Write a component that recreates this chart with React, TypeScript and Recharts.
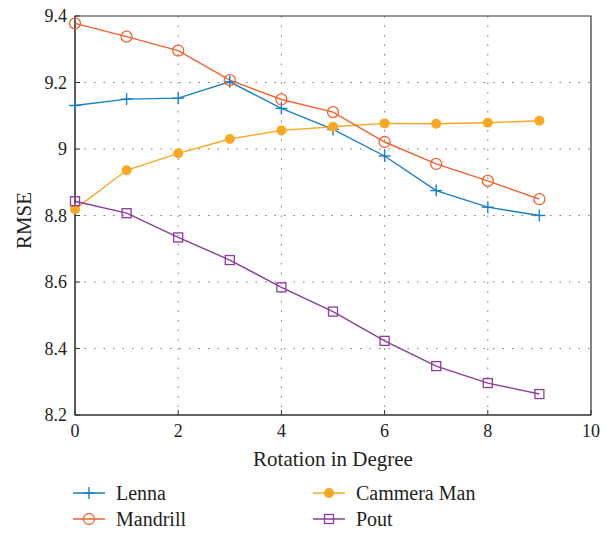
import {
  LineChart,
  Line,
  XAxis,
  YAxis,
  CartesianGrid,
  Legend,
  ReferenceArea,
} from "recharts";

const degrees = [0, 1, 2, 3, 4, 5, 6, 7, 8, 9];
const lenna = [9.131, 9.15, 9.153, 9.202, 9.122, 9.059, 8.979, 8.875, 8.825, 8.8];
const mandrill = [9.378, 9.338, 9.296, 9.207, 9.149, 9.111, 9.021, 8.955, 8.904, 8.849];
const cammeraMan = [8.819, 8.936, 8.987, 9.03, 9.056, 9.067, 9.077, 9.076, 9.079, 9.085];
const pout = [8.843, 8.807, 8.734, 8.666, 8.584, 8.511, 8.423, 8.347, 8.296, 8.263];

const xTicks = [0, 2, 4, 6, 8, 10];
const yTicks = [8.2, 8.4, 8.6, 8.8, 9, 9.2, 9.4];

const data = degrees.map((d, i) => ({
  deg: d,
  lenna: lenna[i],
  mandrill: mandrill[i],
  cammera: cammeraMan[i],
  pout: pout[i],
}));

const FONT = '"Liberation Serif", "DejaVu Serif", serif';
const TEXT = "#231f20";

const series = [
  { key: "lenna", name: "Lenna", color: "#1a7fc4", marker: "plus" },
  { key: "cammera", name: "Cammera Man", color: "#f9a822", marker: "dot" },
  { key: "mandrill", name: "Mandrill", color: "#f2622e", marker: "circle" },
  { key: "pout", name: "Pout", color: "#8d3b9e", marker: "square" },
];

function Marker({ type, cx, cy, color }: { type: string; cx: number; cy: number; color: string }) {
  if (type === "plus")
    return (
      <g stroke={color} strokeWidth={1.4}>
        <line x1={cx - 6} y1={cy} x2={cx + 6} y2={cy} />
        <line x1={cx} y1={cy - 6} x2={cx} y2={cy + 6} />
      </g>
    );
  if (type === "circle")
    return <circle cx={cx} cy={cy} r={5.5} fill="#fff" fillOpacity={0} stroke={color} strokeWidth={1.3} />;
  if (type === "dot") return <circle cx={cx} cy={cy} r={5} fill={color} stroke="none" />;
  return (
    <rect x={cx - 4.5} y={cy - 4.5} width={9} height={9} fill="none" stroke={color} strokeWidth={1.3} />
  );
}

function makeDot(type: string, color: string) {
  return (p: any) => <Marker key={p.index} type={type} cx={p.cx} cy={p.cy} color={color} />;
}

function LegendBox() {
  return (
    <div
      style={{
        display: "grid",
        gridTemplateColumns: "240px 240px",
        rowGap: 0,
        fontFamily: FONT,
        fontSize: 20,
        color: TEXT,
      }}
    >
      {series.map((s) => (
        <div key={s.key} style={{ display: "flex", alignItems: "center", height: 26 }}>
          <svg width={34} height={20} style={{ marginRight: 10 }}>
            <line x1={1} y1={10} x2={33} y2={10} stroke={s.color} strokeWidth={1.5} />
            <Marker type={s.marker} cx={17} cy={10} color={s.color} />
          </svg>
          <span>{s.name}</span>
        </div>
      ))}
    </div>
  );
}

export default function App() {
  return (
    <div style={{ position: "absolute", left: 0, top: 0, background: "#fff" }}>
      <LineChart
        width={615}
        height={534}
        data={data}
        margin={{ top: 16, right: 24, left: 0, bottom: 0 }}
      >
        <CartesianGrid
          stroke="#777"
          strokeDasharray="1.5 8"
          horizontalValues={[8.4, 8.6, 8.8, 9, 9.2]}
          verticalValues={[2, 4, 6, 8]}
        />
        <XAxis
          dataKey="deg"
          type="number"
          domain={[0, 10]}
          ticks={xTicks}
          height={119}
          tickSize={-5}
          tickMargin={14}
          stroke="#333"
          tick={{ fill: TEXT, fontSize: 18, fontFamily: FONT }}
          label={{
            value: "Rotation in Degree",
            position: "insideTop",
            offset: 36,
            fill: TEXT,
            fontSize: 21,
            fontFamily: FONT,
          }}
        />
        <YAxis
          type="number"
          domain={[8.2, 9.4]}
          ticks={yTicks}
          width={75}
          tickSize={-5}
          tickMargin={13}
          stroke="#333"
          tickFormatter={(v: number) => String(Math.round(v * 10) / 10)}
          tick={{ fill: TEXT, fontSize: 18, fontFamily: FONT }}
          label={{
            value: "RMSE",
            angle: -90,
            position: "insideLeft",
            offset: 24,
            dy: 5,
            fill: TEXT,
            fontSize: 21,
            fontFamily: FONT,
            style: { textAnchor: "middle" },
          }}
        />
        <ReferenceArea x1={0} x2={10} y1={8.2} y2={9.4} fill="none" stroke="#333" strokeWidth={1.2} />
        {series.map((s) => (
          <Line
            key={s.key}
            dataKey={s.key}
            name={s.name}
            stroke={s.color}
            strokeWidth={1.4}
            dot={makeDot(s.marker, s.color)}
            activeDot={false}
            isAnimationActive={false}
          />
        ))}
        <Legend
          layout="vertical"
          align="center"
          verticalAlign="middle"
          wrapperStyle={{ top: 480, left: 72, width: 500 }}
          content={() => <LegendBox />}
        />
      </LineChart>
    </div>
  );
}
